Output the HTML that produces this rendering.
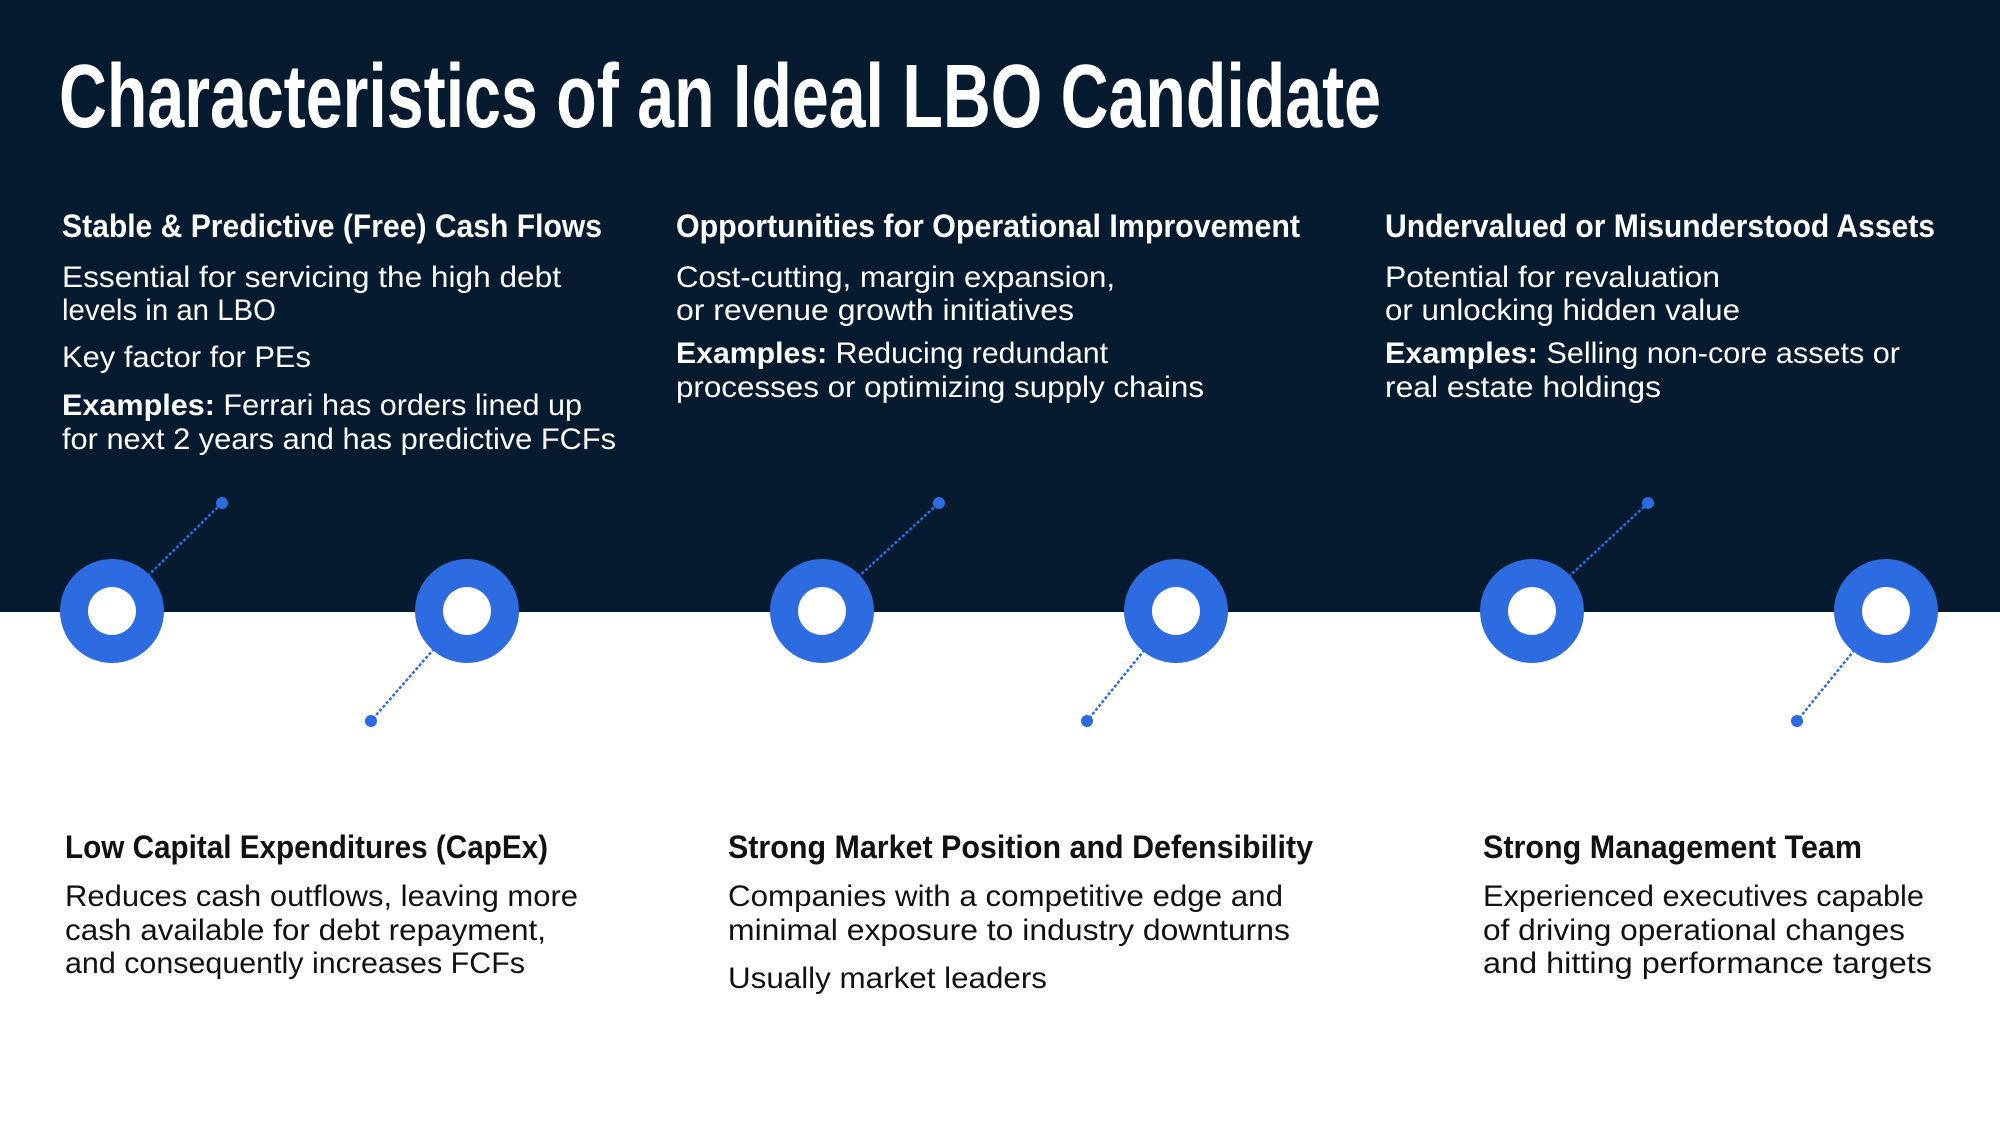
<!DOCTYPE html>
<html><head><meta charset="utf-8"><style>
html,body{margin:0;padding:0;background:#fff}
svg{display:block}
text{font-family:"Liberation Sans",sans-serif}
.h{font-weight:bold;font-size:32px}
.hw{fill:#fff}
.hb{fill:#111}
.b{font-size:30px}
.bw{fill:#fff}
.bb{fill:#111}
</style></head><body>
<svg width="2000" height="1125" viewBox="0 0 2000 1125" xmlns="http://www.w3.org/2000/svg">
<rect x="0" y="0" width="2000" height="612" fill="#061a30"/>
<text x="59" y="127" font-size="90" font-weight="bold" fill="#fff" textLength="1322" lengthAdjust="spacingAndGlyphs">Characteristics of an Ideal LBO Candidate</text>
<g transform="translate(0,-3)">
<text class="h hw" x="62" y="240" textLength="540" lengthAdjust="spacingAndGlyphs">Stable &amp; Predictive (Free) Cash Flows</text>
<text class="b bw" x="62" y="290" textLength="499" lengthAdjust="spacingAndGlyphs">Essential for servicing the high debt</text>
<text class="b bw" x="62" y="323" textLength="214" lengthAdjust="spacingAndGlyphs">levels in an LBO</text>
<text class="b bw" x="62" y="370" textLength="249" lengthAdjust="spacingAndGlyphs">Key factor for PEs</text>
<text class="b bw" x="62" y="418" textLength="520" lengthAdjust="spacingAndGlyphs"><tspan font-weight="bold">Examples:</tspan> Ferrari has orders lined up</text>
<text class="b bw" x="62" y="452" textLength="554" lengthAdjust="spacingAndGlyphs">for next 2 years and has predictive FCFs</text>

<text class="h hw" x="676" y="240" textLength="624" lengthAdjust="spacingAndGlyphs">Opportunities for Operational Improvement</text>
<text class="b bw" x="676" y="290" textLength="439" lengthAdjust="spacingAndGlyphs">Cost-cutting, margin expansion,</text>
<text class="b bw" x="676" y="323" textLength="398" lengthAdjust="spacingAndGlyphs">or revenue growth initiatives</text>
<text class="b bw" x="676" y="366" textLength="432" lengthAdjust="spacingAndGlyphs"><tspan font-weight="bold">Examples:</tspan> Reducing redundant</text>
<text class="b bw" x="676" y="400" textLength="528" lengthAdjust="spacingAndGlyphs">processes or optimizing supply chains</text>

<text class="h hw" x="1385" y="240" textLength="550" lengthAdjust="spacingAndGlyphs">Undervalued or Misunderstood Assets</text>
<text class="b bw" x="1385" y="290" textLength="335" lengthAdjust="spacingAndGlyphs">Potential for revaluation</text>
<text class="b bw" x="1385" y="323" textLength="355" lengthAdjust="spacingAndGlyphs">or unlocking hidden value</text>
<text class="b bw" x="1385" y="366" textLength="515" lengthAdjust="spacingAndGlyphs"><tspan font-weight="bold">Examples:</tspan> Selling non-core assets or</text>
<text class="b bw" x="1385" y="400" textLength="276" lengthAdjust="spacingAndGlyphs">real estate holdings</text>
</g>

<g stroke="#2c6be0" stroke-width="2.5" stroke-dasharray="3,2" fill="none">
<line x1="112" y1="611" x2="222" y2="503"/>
<line x1="467" y1="611" x2="371" y2="721"/>
<line x1="821" y1="611" x2="939" y2="503"/>
<line x1="1176" y1="611" x2="1087" y2="721"/>
<line x1="1532" y1="611" x2="1648" y2="503"/>
<line x1="1886" y1="611" x2="1797" y2="721"/>
</g>
<g fill="#2c6be0">
<circle cx="222" cy="503" r="6"/><circle cx="371" cy="721" r="6"/>
<circle cx="939" cy="503" r="6"/><circle cx="1087" cy="721" r="6"/>
<circle cx="1648" cy="503" r="6"/><circle cx="1797" cy="721" r="6"/>
</g>
<g fill="#2c6be0">
<circle cx="112" cy="611" r="52"/><circle cx="467" cy="611" r="52"/>
<circle cx="822" cy="611" r="52"/><circle cx="1176" cy="611" r="52"/>
<circle cx="1532" cy="611" r="52"/><circle cx="1886" cy="611" r="52"/>
</g>
<g fill="#fff">
<circle cx="112" cy="611" r="24"/><circle cx="467" cy="611" r="24"/>
<circle cx="822" cy="611" r="24"/><circle cx="1176" cy="611" r="24"/>
<circle cx="1532" cy="611" r="24"/><circle cx="1886" cy="611" r="24"/>
</g>

<g transform="translate(0,-3)">
<text class="h hb" x="65" y="861" textLength="483" lengthAdjust="spacingAndGlyphs">Low Capital Expenditures (CapEx)</text>
<text class="b bb" x="65" y="909" textLength="513" lengthAdjust="spacingAndGlyphs">Reduces cash outflows, leaving more</text>
<text class="b bb" x="65" y="943" textLength="481" lengthAdjust="spacingAndGlyphs">cash available for debt repayment,</text>
<text class="b bb" x="65" y="976" textLength="460" lengthAdjust="spacingAndGlyphs">and consequently increases FCFs</text>

<text class="h hb" x="728" y="861" textLength="585" lengthAdjust="spacingAndGlyphs">Strong Market Position and Defensibility</text>
<text class="b bb" x="728" y="909" textLength="555" lengthAdjust="spacingAndGlyphs">Companies with a competitive edge and</text>
<text class="b bb" x="728" y="943" textLength="562" lengthAdjust="spacingAndGlyphs">minimal exposure to industry downturns</text>
<text class="b bb" x="728" y="991" textLength="319" lengthAdjust="spacingAndGlyphs">Usually market leaders</text>

<text class="h hb" x="1483" y="861" textLength="379" lengthAdjust="spacingAndGlyphs">Strong Management Team</text>
<text class="b bb" x="1483" y="909" textLength="441" lengthAdjust="spacingAndGlyphs">Experienced executives capable</text>
<text class="b bb" x="1483" y="943" textLength="422" lengthAdjust="spacingAndGlyphs">of driving operational changes</text>
<text class="b bb" x="1483" y="976" textLength="449" lengthAdjust="spacingAndGlyphs">and hitting performance targets</text>
</g>
</svg>
</body></html>
